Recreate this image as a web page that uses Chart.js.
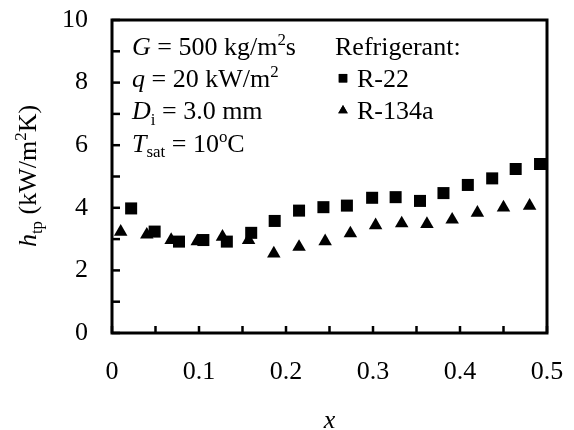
<!DOCTYPE html>
<html>
<head>
<meta charset="utf-8">
<script src="https://cdn.jsdelivr.net/npm/chart.js@4"></script>
<style>
  body { margin: 0; background: #fff; }
  #wrap { width: 574px; height: 430px; }
</style>
</head>
<body>
<div id="wrap"><canvas id="htpChart" width="574" height="430"></canvas></div>
<script>
// Vapor quality x vs two-phase heat transfer coefficient (kW/m2K)
const r22X = [0.022, 0.049, 0.077, 0.105, 0.132, 0.160, 0.187, 0.215, 0.243, 0.270, 0.299, 0.326, 0.354, 0.381, 0.409, 0.437, 0.464, 0.492];
const r22H = [3.98, 3.24, 2.92, 2.97, 2.92, 3.20, 3.58, 3.91, 4.02, 4.07, 4.32, 4.34, 4.22, 4.47, 4.73, 4.94, 5.24, 5.40];
const r134aX = [0.010, 0.040, 0.068, 0.098, 0.127, 0.157, 0.186, 0.215, 0.245, 0.274, 0.303, 0.333, 0.362, 0.391, 0.420, 0.450, 0.480];
const r134aH = [3.23, 3.14, 2.97, 2.93, 3.07, 2.97, 2.54, 2.75, 2.93, 3.18, 3.44, 3.50, 3.48, 3.62, 3.84, 4.01, 4.06];

const xTicks = [0, 0.1, 0.2, 0.3, 0.4, 0.5];
const yTicks = [0, 2, 4, 6, 8, 10];

const FONT = '"Liberation Serif", "Times New Roman", serif';
const FS = 26;

function pts(xs, ys) {
  return xs.map((x, i) => ({ x: x, y: ys[i] }));
}

// draws a run of text pieces with italics, sub- and superscripts
function richWidth(ctx, parts, size) {
  let w = 0;
  parts.forEach(p => {
    const s = (p.sub || p.sup) ? size * 0.65 : size;
    ctx.font = (p.it ? 'italic ' : '') + s + 'px ' + FONT;
    w += ctx.measureText(p.t).width;
  });
  return w;
}
function drawRich(ctx, x, y, parts, size) {
  ctx.textBaseline = 'alphabetic';
  ctx.textAlign = 'left';
  parts.forEach(p => {
    const s = (p.sub || p.sup) ? size * 0.65 : size;
    ctx.font = (p.it ? 'italic ' : '') + s + 'px ' + FONT;
    let dy = 0;
    if (p.sub) dy = size * 0.22;
    if (p.sup) dy = -size * 0.38;
    ctx.fillText(p.t, x, y + dy);
    x += ctx.measureText(p.t).width;
  });
}

const notes = [
  [{t: 'G', it: true}, {t: ' = 500 kg/m'}, {t: '2', sup: true}, {t: 's'}],
  [{t: 'q', it: true}, {t: ' = 20 kW/m'}, {t: '2', sup: true}],
  [{t: 'D', it: true}, {t: 'i', sub: true}, {t: ' = 3.0 mm'}],
  [{t: 'T', it: true}, {t: 'sat', sub: true}, {t: ' = 10'}, {t: 'o', sup: true}, {t: 'C'}]
];
const yTitle = [{t: 'h', it: true}, {t: 'tp', sub: true}, {t: ' (kW/m'}, {t: '2', sup: true}, {t: 'K)'}];

const framePlugin = {
  id: 'frame',
  afterDatasetsDraw(chart) {
    const {ctx, chartArea: a, scales} = chart;
    ctx.save();
    ctx.strokeStyle = '#000';
    // inward tick marks
    ctx.lineWidth = 2.5;
    scales.x.ticks.forEach(t => {
      const px = scales.x.getPixelForValue(t.value);
      ctx.beginPath(); ctx.moveTo(px, a.bottom); ctx.lineTo(px, a.bottom - 7); ctx.stroke();
    });
    scales.y.ticks.forEach(t => {
      const py = scales.y.getPixelForValue(t.value);
      ctx.beginPath(); ctx.moveTo(a.left, py); ctx.lineTo(a.left + 8, py); ctx.stroke();
    });
    ctx.lineWidth = 3;
    ctx.strokeRect(a.left, a.top, a.right - a.left, a.bottom - a.top);

    // condition notes
    ctx.fillStyle = '#000';
    notes.forEach((line, i) => drawRich(ctx, 132, 55 + i * 32.2, line, FS));

    // legend
    ctx.font = FS + 'px ' + FONT;
    ctx.fillText('Refrigerant:', 335, 55);
    chart.data.datasets.forEach((ds, i) => {
      const y = 87.2 + i * 32.2;
      Chart.helpers.drawPoint(ctx, {pointStyle: ds.pointStyle, radius: ds.pointStyle === 'rect' ? 6 : 5.5, borderWidth: 0}, 343, y - 9);
      ctx.fill();
      ctx.font = FS + 'px ' + FONT;
      ctx.fillText(ds.label, 357, y);
    });

    // y axis title, rotated
    ctx.translate(36, 176);
    ctx.rotate(-Math.PI / 2);
    const w = richWidth(ctx, yTitle, FS);
    drawRich(ctx, -w / 2, 0, yTitle, FS);
    ctx.restore();
  }
};

new Chart(document.getElementById('htpChart'), {
  type: 'scatter',
  data: {
    datasets: [
      {
        label: 'R-22',
        data: pts(r22X, r22H),
        pointStyle: 'rect',
        pointRadius: 8.5,
        pointBorderWidth: 0,
        backgroundColor: '#000',
        borderColor: '#000'
      },
      {
        label: 'R-134a',
        data: pts(r134aX, r134aH),
        pointStyle: 'triangle',
        pointRadius: 7.8,
        pointBorderWidth: 0,
        backgroundColor: '#000',
        borderColor: '#000'
      }
    ]
  },
  options: {
    responsive: false,
    animation: false,
    clip: false,
    layout: { padding: { top: 20, right: 27, left: 0, bottom: 0 } },
    plugins: { legend: { display: false }, tooltip: { enabled: false } },
    scales: {
      x: {
        type: 'linear',
        min: 0, max: 0.5,
        afterFit(s) { s.height = 97; s.paddingLeft = 0; s.paddingRight = 0; },
        grid: { display: false, drawTicks: false },
        border: { display: false },
        ticks: {
          stepSize: 0.05,
          autoSkip: false,
          maxRotation: 0,
          padding: 24,
          color: '#000',
          font: { family: FONT, size: FS },
          callback(v) {
            const k = xTicks.find(t => Math.abs(t - v) < 1e-6);
            return k === undefined ? '' : String(k);
          }
        },
        title: {
          display: true,
          text: 'x',
          color: '#000',
          padding: { top: 0, bottom: -7 },
          font: { family: FONT, size: FS, style: 'italic' }
        }
      },
      y: {
        type: 'linear',
        min: 0, max: 10,
        afterFit(s) { s.width = 112; s.paddingTop = 0; s.paddingBottom = 0; },
        grid: { display: false, drawTicks: false },
        border: { display: false },
        ticks: {
          stepSize: 1,
          autoSkip: false,
          padding: 24,
          color: '#000',
          font: { family: FONT, size: FS },
          callback(v) {
            return yTicks.includes(v) ? String(v) : '';
          }
        }
      }
    }
  },
  plugins: [framePlugin]
});
</script>
</body>
</html>
